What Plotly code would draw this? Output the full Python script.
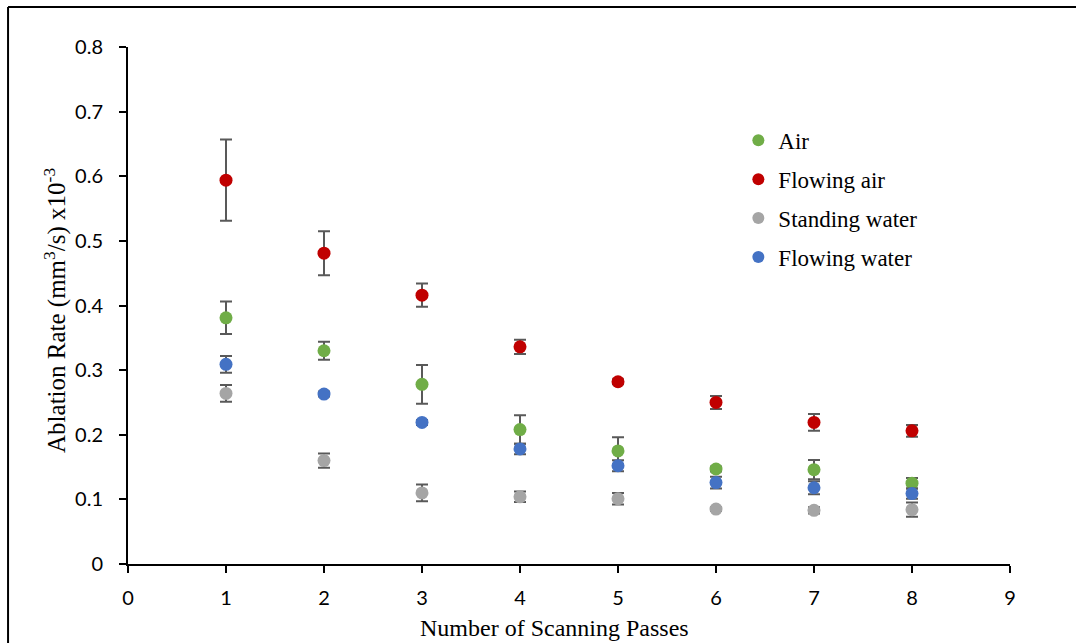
import plotly.graph_objects as go

passes = [1, 2, 3, 4, 5, 6, 7, 8]

air = [0.381, 0.330, 0.278, 0.208, 0.175, 0.147, 0.146, 0.125]
air_err = [0.025, 0.014, 0.030, 0.022, 0.021, 0.004, 0.015, 0.008]

flowing_air = [0.594, 0.481, 0.416, 0.336, 0.282, 0.250, 0.219, 0.206]
flowing_air_err = [0.063, 0.034, 0.018, 0.011, 0.004, 0.010, 0.013, 0.009]

standing_water = [0.264, 0.160, 0.110, 0.104, 0.101, 0.085, 0.083, 0.084]
standing_water_err = [0.013, 0.011, 0.013, 0.008, 0.009, 0.003, 0.005, 0.011]

flowing_water = [0.309, 0.263, 0.219, 0.178, 0.152, 0.126, 0.118, 0.109]
flowing_water_err = [0.013, 0.004, 0.004, 0.008, 0.0085, 0.009, 0.010, 0.008]

x_title = "Number of Scanning Passes"
y_title = "Ablation Rate (mm<sup>3</sup>/s) x10<sup>-3</sup>"

series = [
    ("Air", air, air_err, "#70AD47"),
    ("Flowing air", flowing_air, flowing_air_err, "#C00000"),
    ("Standing water", standing_water, standing_water_err, "#A5A5A5"),
    ("Flowing water", flowing_water, flowing_water_err, "#4472C4"),
]

fig = go.Figure()
for i, (name, vals, errs, col) in enumerate(series):
    fig.add_trace(go.Scatter(
        x=passes, y=vals, mode="markers", name=name,
        legendgroup=f"g{i}",
        marker=dict(color=col, size=13, line=dict(width=0)),
        error_y=dict(type="data", array=errs, visible=True,
                     color="#595959", thickness=2, width=6),
    ))

tick_font = dict(family="Lato, Open Sans, sans-serif", size=20, color="#000000")
serif = "Liberation Serif, Times New Roman, serif"

fig.update_layout(
    width=1076, height=643,
    margin=dict(l=128, r=66, t=47, b=79, autoexpand=False),
    paper_bgcolor="white", plot_bgcolor="white",
    showlegend=True,
    legend=dict(x=0.692, y=0.861, xanchor="left", yanchor="top",
                font=dict(family=serif, size=23, color="#000000"),
                tracegroupgap=6, itemsizing="constant", itemwidth=30,
                bgcolor="rgba(0,0,0,0)"),
    xaxis=dict(range=[0, 9], dtick=1, tick0=0, showgrid=False, zeroline=False,
               showline=True, linecolor="#000000", linewidth=2,
               ticks="outside", ticklen=7, tickwidth=2, tickcolor="#000000",
               tickfont=tick_font, ticklabelstandoff=8, automargin=False),
    yaxis=dict(range=[0, 0.8], dtick=0.1, tick0=0, showgrid=False, zeroline=False,
               showline=True, linecolor="#000000", linewidth=2,
               ticks="outside", ticklen=7, tickwidth=2, tickcolor="#000000",
               tickfont=tick_font, tickformat="~g", ticklabelstandoff=12,
               automargin=False),
    annotations=[
        dict(text=x_title, xref="paper", yref="paper", x=0.484, y=-0.124,
             xanchor="center", yanchor="middle", showarrow=False,
             font=dict(family=serif, size=24, color="#000000")),
        dict(text=y_title, xref="paper", yref="paper", x=-0.083, y=0.491,
             xanchor="center", yanchor="middle", showarrow=False, textangle=-90,
             font=dict(family=serif, size=25, color="#000000")),
    ],
    shapes=[
        dict(type="line", xref="paper", yref="paper",
             x0=-0.136, x1=-0.136, y0=1.0774, y1=-0.3,
             line=dict(color="#000000", width=2)),
        dict(type="line", xref="paper", yref="paper",
             x0=-0.136, x1=1.2, y0=1.0774, y1=1.0774,
             line=dict(color="#000000", width=2)),
    ],
)

fig.write_html("out.html")
